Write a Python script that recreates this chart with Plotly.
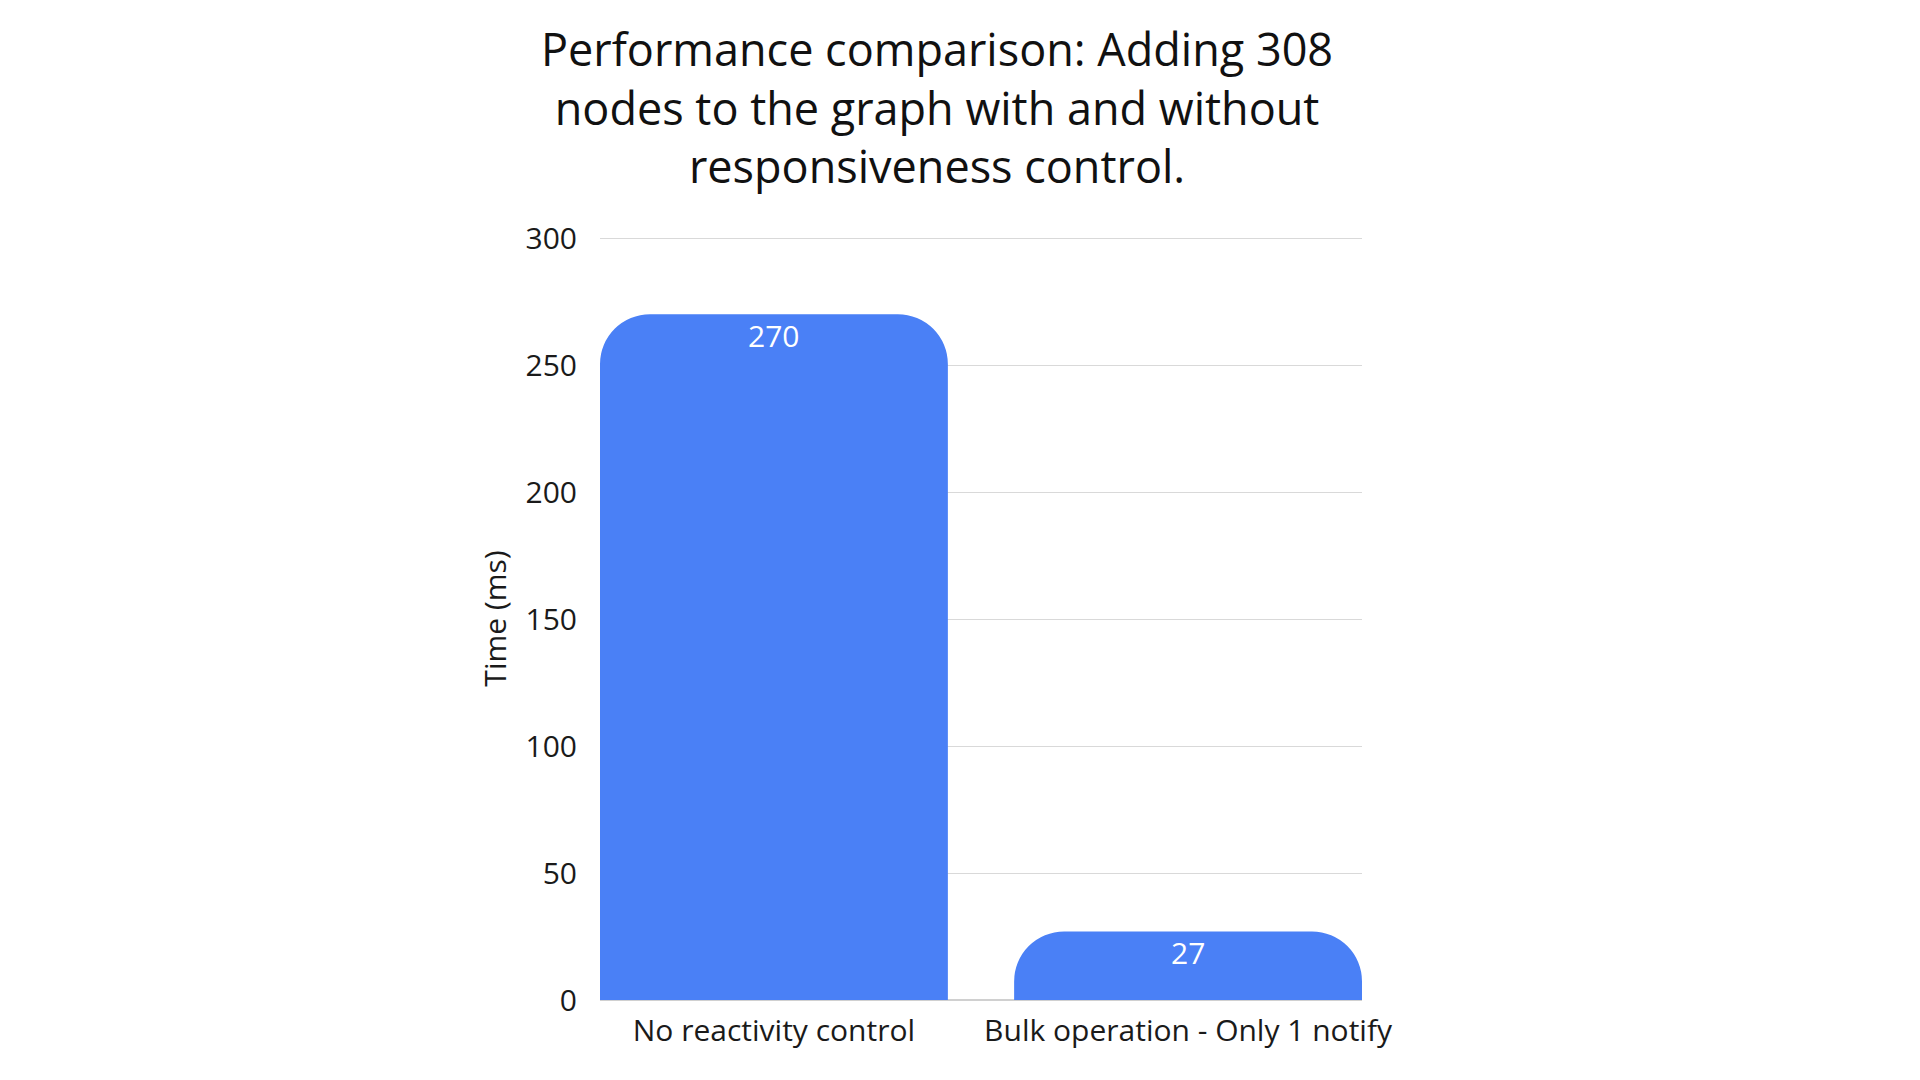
import plotly.graph_objects as go

categories = ["No reactivity control", "Bulk operation - Only 1 notify"]
values = [270, 27]
y_ticks = [0, 50, 100, 150, 200, 250, 300]

title_text = ("Performance comparison: Adding 308<br>nodes to the graph with and without"
              "<br>responsiveness control.")

FONT = "Open Sans"
TXT = "#1a1a1a"

fig = go.Figure(
    go.Bar(
        x=categories,
        y=values,
        width=0.84,
        marker=dict(color="#4A80F6", line=dict(width=0)),
        hoverinfo="x+y",
    )
)

# value labels just under the top of each bar
for c, v in zip(categories, values):
    fig.add_annotation(
        x=c, y=v, xref="x", yref="y",
        text=str(v), showarrow=False,
        yanchor="middle", yshift=-21,
        font=dict(color="white", size=30, family=FONT),
    )

# title as a centred annotation
fig.add_annotation(
    x=(937 - 600) / 762, y=(1000 - 108) / 762,
    xref="paper", yref="paper",
    text=title_text, showarrow=False,
    xanchor="center", yanchor="middle",
    font=dict(size=45, family=FONT, color="#111111"),
)

fig.update_layout(
    width=1920,
    height=1080,
    margin=dict(l=600, r=558, t=237, b=80),
    paper_bgcolor="white",
    plot_bgcolor="white",
    barcornerradius=50,
    showlegend=False,
    font=dict(family=FONT, color=TXT, size=30),
    xaxis=dict(
        range=[-0.42, 1.42],
        showgrid=False,
        showline=False,
        ticks="",
        tickfont=dict(size=30, family=FONT, color=TXT),
        ticklabelstandoff=10,
        fixedrange=True,
    ),
    yaxis=dict(
        range=[0, 300.4],
        tickvals=y_ticks,
        showgrid=True,
        gridcolor="#d9d9d9",
        gridwidth=1,
        zeroline=True,
        zerolinecolor="#d0d0d0",
        zerolinewidth=1.5,
        showline=False,
        ticks="",
        ticklabelstandoff=22,
        tickfont=dict(size=30, family=FONT, color=TXT),
        title=dict(text="Time (ms)", standoff=10,
                   font=dict(size=30, family=FONT, color=TXT)),
    ),
)

fig.write_html("out.html")
